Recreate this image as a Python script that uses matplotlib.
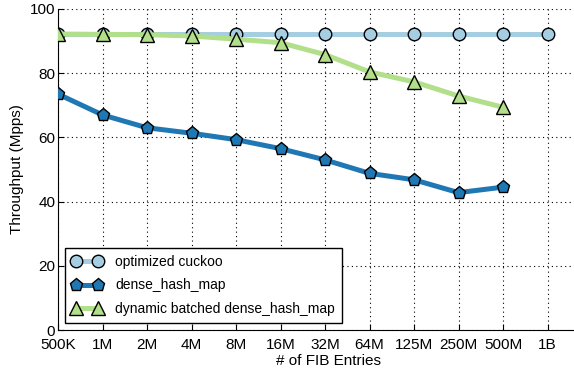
import numpy as np
import matplotlib.pyplot as plt

plt.rcParams["font.family"] = ["Liberation Sans", "DejaVu Sans"]

# number of FIB entries (categorical x axis)
labels = ["500K", "1M", "2M", "4M", "8M", "16M", "32M", "64M", "125M", "250M", "500M", "1B"]

# throughput in Mpps
cuckoo = [92.2, 92.2, 92.2, 92.2, 92.2, 92.2, 92.2, 92.2, 92.2, 92.2, 92.2, 92.2]
dense = [73.5, 67.0, 63.0, 61.3, 59.3, 56.5, 53.0, 48.8, 46.8, 42.8, 44.5]
batched = [92.2, 92.1, 92.0, 91.6, 90.6, 89.5, 85.8, 80.4, 77.3, 72.9, 69.4]

fig = plt.figure(figsize=(5.74, 3.70), dpi=100)
ax = fig.add_axes([58 / 574, 40 / 370, 540 / 574, 321 / 370])

x = np.arange(len(labels))
style = dict(lw=3.6, mec="black", mew=1)
ax.plot(x[:len(cuckoo)], cuckoo, color="#a6cee3", marker="o", ms=9,
        mfc="#a6cee3", label="optimized cuckoo", zorder=3, **style)
ax.plot(x[:len(dense)], dense, color="#1f78b4", marker="p", ms=9.5,
        mfc="#1f78b4", label="dense_hash_map", zorder=4, **style)
ax.plot(x[:len(batched)], batched, color="#b2df8a", marker="^", ms=9.5,
        mfc="#b2df8a", label="dynamic batched dense_hash_map", zorder=5, **style)

ax.set_xlim(0, (598 - 58) / 44.5)
ax.set_ylim(0, 100)
ax.set_xticks(x)
ax.set_xticklabels(labels)
ax.set_yticks(np.arange(0, 101, 20))
ax.tick_params(labelsize=11, direction="in", length=4)
ax.tick_params(axis="y", pad=2)
ax.tick_params(axis="x", pad=6)
ax.grid(True, color="black", linestyle=(0, (1, 3)), lw=0.8)
ax.spines["top"].set_visible(False)
ax.spines["right"].set_visible(False)
ax.set_xlabel("# of FIB Entries", fontsize=11, labelpad=1)
ax.set_ylabel("Throughput (Mpps)", fontsize=11, labelpad=4)

leg = ax.legend(loc="lower left", fontsize=10, fancybox=False, framealpha=1,
                edgecolor="black", borderaxespad=0.5, handlelength=2.2,
                handletextpad=0.9, numpoints=2, labelspacing=0.7,
                borderpad=0.5)
leg.get_frame().set_linewidth(1)

fig.savefig("out.png", dpi=100)
